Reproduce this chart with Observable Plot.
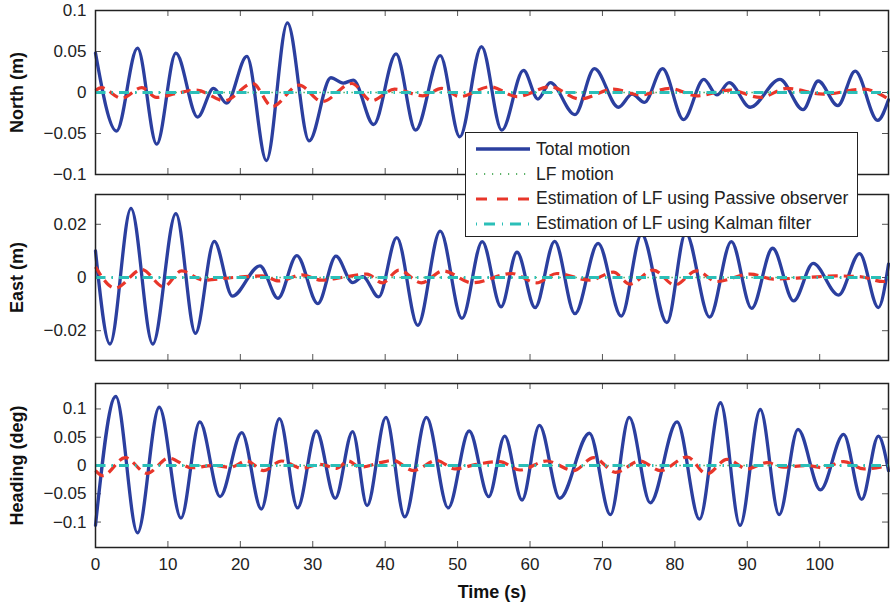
<!DOCTYPE html>
<html>
<head>
<meta charset="utf-8">
<script src="https://cdn.jsdelivr.net/npm/d3@7"></script>
<script src="https://cdn.jsdelivr.net/npm/@observablehq/plot@0.6"></script>
<style>
  body { margin: 0; background: #fff; }
  #wrap { position: relative; width: 890px; height: 611px; font-family: "Liberation Sans", Arial, Helvetica, sans-serif; color: #222; overflow: hidden; }
  .panel { position: absolute; left: 0; }
  #legend { position: absolute; left: 465px; top: 132px; width: 393px; height: 105px; background: #fff; border: 1.4px solid #222; box-sizing: border-box; }
  .lrow { position: absolute; left: 0; height: 24px; display: flex; align-items: center; }
  .lrow svg { margin-left: 9px; margin-right: 5px; }
  .lrow span { font-size: 17.5px; color: #222; white-space: nowrap; }
</style>
</head>
<body>
<div id="wrap"></div>
<script>
// ---------- data ----------
const xTicks = [0, 10, 20, 30, 40, 50, 60, 70, 80, 90, 100];
const xTickLabels = ["0", "10", "20", "30", "40", "50", "60", "70", "80", "90", "100"];
const xDomain = [0, 109.5];

const seriesNames = ["Total motion", "LF motion", "Estimation of LF using Passive observer", "Estimation of LF using Kalman filter"];

// North (m)
const northTicks = [-0.1, -0.05, 0, 0.05, 0.1];
const northTickLabels = ["\u22120.1", "\u22120.05", "0", "0.05", "0.1"];
const northTotalT = [0, 2.9, 5.8, 8.45, 11.1, 14.1, 16.3, 18.1, 20.9, 23.6, 26.5, 29.5, 32.5, 34.2, 35.6, 38.4, 41.5, 44.2, 47.6, 50.3, 53.3, 56.1, 59.1, 61.1, 62.8, 66.2, 68.9, 72.2, 74.1, 75.8, 78.3, 81.2, 84.0, 85.8, 87.5, 90.4, 94.5, 97.7, 99.8, 102.5, 104.9, 108.0, 109.5];
const northTotalV = [0.048, -0.047, 0.054, -0.063, 0.048, -0.030, 0.005, -0.013, 0.044, -0.083, 0.085, -0.059, 0.018, 0.0115, 0.015, -0.039, 0.047, -0.046, 0.045, -0.054, 0.056, -0.046, 0.027, -0.008, 0.012, -0.027, 0.029, -0.018, -0.002, -0.012, 0.029, -0.033, 0.016, -0.003, 0.012, -0.018, 0.016, -0.021, 0.014, -0.016, 0.026, -0.034, -0.009];
const northPassT = [0, 0.8, 3.6, 6.4, 8.4, 11.2, 13.9, 17.8, 21.7, 24.4, 28.1, 31.3, 35.4, 38.1, 41.3, 45.2, 47.8, 50.3, 54.5, 58.2, 62.8, 66.9, 71.5, 75.2, 79.3, 83.0, 87.6, 91.8, 95.5, 100.5, 106.1, 109.5];
const northPassV = [0.0025, 0.006, -0.007, 0.006, -0.006, -0.001, 0.003, -0.010, 0.011, -0.017, 0.009, -0.011, 0.011, -0.010, 0.004, -0.004, 0.005, -0.005, 0.007, -0.005, 0.007, -0.008, 0.004, -0.003, 0.005, -0.004, 0.003, -0.006, 0.005, -0.002, 0.004, -0.008];
const northLfT = [0, 109.5];
const northLfV = [0, 0];
const northKalT = [0, 109.5];
const northKalV = [0, 0];

// East (m)
const eastTicks = [-0.02, 0, 0.02];
const eastTickLabels = ["\u22120.02", "0", "0.02"];
const eastTotalT = [0, 2.0, 4.9, 7.9, 11.1, 13.8, 16.4, 18.9, 22.7, 25.2, 27.8, 30.7, 33.2, 35.5, 36.9, 39.1, 41.6, 44.5, 47.6, 50.6, 53.4, 56.0, 58.2, 60.7, 63.4, 66.2, 69.4, 72.6, 75.4, 78.9, 81.5, 84.8, 87.8, 90.6, 93.5, 96.4, 99.1, 102.6, 105.5, 108.1, 109.5];
const eastTotalV = [0.010, -0.025, 0.026, -0.025, 0.024, -0.021, 0.0136, -0.007, 0.0044, -0.0078, 0.0082, -0.0098, 0.008, -0.0019, 0.0003, -0.0073, 0.015, -0.018, 0.0174, -0.0154, 0.0135, -0.011, 0.0095, -0.0113, 0.0136, -0.0136, 0.0128, -0.0145, 0.0162, -0.017, 0.0168, -0.0149, 0.0135, -0.0116, 0.011, -0.0088, 0.0053, -0.0066, 0.009, -0.0113, 0.005];
const eastPassT = [0, 2.7, 6.4, 9.4, 11.9, 14.9, 19.0, 23.0, 25.3, 28.5, 31.2, 34.0, 37.5, 39.6, 41.9, 45.0, 48.0, 52.0, 57.5, 60.9, 63.7, 68.3, 71.5, 73.8, 77.0, 80.0, 83.0, 85.8, 90.4, 93.6, 98.2, 102.3, 105.5, 108.8, 109.5];
const eastPassV = [0.004, -0.004, 0.003, -0.0035, 0.0025, -0.001, 0.0, 0.0006, -0.0013, 0.001, -0.001, 0.0, 0.0013, -0.002, 0.0028, -0.002, 0.0025, -0.002, 0.0015, -0.002, 0.0015, -0.001, 0.002, -0.0025, 0.0028, -0.0028, 0.0025, -0.0015, 0.0013, -0.0006, 0.0, 0.0006, 0.0003, -0.0015, -0.001];
const eastLfT = [0, 109.5];
const eastLfV = [0, 0];
const eastKalT = [0, 109.5];
const eastKalV = [0, 0];

// Heading (deg)
const headTicks = [-0.1, -0.05, 0, 0.05, 0.1];
const headTickLabels = ["\u22120.1", "\u22120.05", "0", "0.05", "0.1"];
const headTotalT = [0, 2.8, 5.8, 8.8, 11.8, 14.4, 17.2, 20.2, 22.9, 25.4, 27.9, 30.5, 33.1, 35.5, 37.5, 40.1, 42.7, 45.7, 48.7, 51.6, 54.3, 56.5, 58.9, 61.3, 64.1, 68.2, 71.1, 73.7, 76.6, 80.3, 83.4, 86.3, 89.0, 91.8, 94.4, 97.0, 100.1, 103.3, 105.8, 108.1, 109.5];
const headTotalV = [-0.106, 0.122, -0.119, 0.103, -0.093, 0.077, -0.055, 0.058, -0.077, 0.083, -0.075, 0.061, -0.058, 0.060, -0.071, 0.085, -0.091, 0.085, -0.075, 0.061, -0.055, 0.052, -0.061, 0.071, -0.058, 0.057, -0.087, 0.085, -0.066, 0.077, -0.095, 0.111, -0.106, 0.099, -0.087, 0.064, -0.043, 0.055, -0.060, 0.052, -0.009];
const headPassT = [0, 1.0, 4.1, 7.1, 10.1, 13.3, 16.3, 18.6, 20.9, 23.2, 25.7, 28.5, 31.0, 33.3, 34.9, 36.5, 39.3, 41.1, 43.9, 47.1, 49.6, 52.6, 55.8, 58.6, 62.3, 66.0, 68.8, 71.8, 75.2, 78.0, 81.7, 84.4, 87.2, 90.0, 92.7, 95.0, 98.2, 100.5, 103.3, 106.1, 109.5];
const headPassV = [-0.009, -0.018, 0.014, -0.014, 0.013, -0.004, 0.0, -0.003, 0.008, -0.009, 0.008, -0.005, 0.002, -0.005, 0.008, -0.003, 0.005, 0.009, -0.009, 0.009, -0.006, 0.002, 0.007, -0.008, 0.008, -0.009, 0.014, -0.012, 0.008, -0.009, 0.015, -0.015, 0.011, -0.006, 0.005, -0.003, 0.0, -0.004, 0.007, -0.006, 0.0];
const headLfT = [0, 109.5];
const headLfV = [0, 0];
const headKalT = [0, 109.5];
const headKalV = [0, 0];

// ---------- styles ----------
const colors = { total: "#2b3f9f", lf: "#2a9a3a", pass: "#e8362a", kal: "#2bbfb8" };
const FONT = '"Liberation Sans", Arial, Helvetica, sans-serif';

function rows(T, V) { return T.map((t, i) => ({ t, v: V[i] })); }

const wrap = document.getElementById("wrap");

function panel(cfg) {
  const W = 890, mL = 95, mR = 2;
  const plotW = W - mL - mR;
  const plotH = cfg.height - cfg.mTop - cfg.mBottom;
  const tickLen = 6;
  const marks = [
    // inward ticks
    Plot.ruleX(xTicks, { x: d => d, insetTop: plotH - tickLen, stroke: "#555", strokeWidth: 1 }),
    Plot.ruleX(xTicks, { x: d => d, insetBottom: plotH - tickLen, stroke: "#555", strokeWidth: 1 }),
    Plot.ruleY(cfg.yTicks, { y: d => d, insetRight: plotW - tickLen, stroke: "#555", strokeWidth: 1 }),
    Plot.ruleY(cfg.yTicks, { y: d => d, insetLeft: plotW - tickLen, stroke: "#555", strokeWidth: 1 }),
    // series
    Plot.line(rows(cfg.total[0], cfg.total[1]), { x: "t", y: "v", stroke: colors.total, strokeWidth: 3.3, curve: "monotone-x" }),
    Plot.line(rows(cfg.lf[0], cfg.lf[1]), { x: "t", y: "v", stroke: colors.lf, strokeWidth: 1.6, strokeDasharray: "1.2,6.8", strokeLinecap: "butt" }),
    Plot.line(rows(cfg.pass[0], cfg.pass[1]), { x: "t", y: "v", stroke: colors.pass, strokeWidth: 3.2, strokeDasharray: "10,6", strokeLinecap: "butt", curve: "monotone-x" }),
    Plot.line(rows(cfg.kal[0], cfg.kal[1]), { x: "t", y: "v", stroke: colors.kal, strokeWidth: 3.2, strokeDasharray: "10,6,1.5,6", strokeLinecap: "butt" }),
    Plot.frame({ stroke: "#222", strokeWidth: 1.5 }),
    Plot.axisY(cfg.yTicks, { tickSize: 0, tickPadding: 9, fontSize: 17, label: null, tickFormat: d => cfg.yLabels[cfg.yTicks.indexOf(d)] }),
    Plot.text([cfg.label], { frameAnchor: "left", dx: -78.5, rotate: -90, text: d => d, fontWeight: "bold", fontSize: 18, textAnchor: "middle", fill: "#111" })
  ];
  if (cfg.showX) {
    marks.push(Plot.axisX(xTicks, { tickSize: 0, tickPadding: 10, fontSize: 17, label: null, tickFormat: d => xTickLabels[xTicks.indexOf(d)] }));
    marks.push(Plot.text(["Time (s)"], { frameAnchor: "bottom", dy: 50, text: d => d, fontWeight: "bold", fontSize: 18, fill: "#111" }));
  }
  const p = Plot.plot({
    width: W,
    height: cfg.height,
    marginLeft: mL,
    marginRight: mR,
    marginTop: cfg.mTop,
    marginBottom: cfg.mBottom,
    style: { fontFamily: FONT, fontSize: "17px", color: "#222", background: "transparent", overflow: "visible" },
    x: { domain: xDomain, axis: null },
    y: { domain: cfg.domain, axis: null },
    marks
  });
  p.classList.add("panel");
  p.style.top = cfg.top + "px";
  p.style.position = "absolute";
  wrap.appendChild(p);
}

panel({
  top: 0, height: 184, mTop: 10, mBottom: 10, domain: [-0.1, 0.1],
  yTicks: northTicks, yLabels: northTickLabels, label: "North (m)",
  total: [northTotalT, northTotalV], lf: [northLfT, northLfV], pass: [northPassT, northPassV], kal: [northKalT, northKalV]
});
panel({
  top: 184, height: 186, mTop: 10, mBottom: 10, domain: [-0.0312, 0.0312],
  yTicks: eastTicks, yLabels: eastTickLabels, label: "East (m)",
  total: [eastTotalT, eastTotalV], lf: [eastLfT, eastLfV], pass: [eastPassT, eastPassV], kal: [eastKalT, eastKalV]
});
panel({
  top: 370, height: 241, mTop: 13, mBottom: 64, domain: [-0.145, 0.145],
  yTicks: headTicks, yLabels: headTickLabels, label: "Heading (deg)",
  total: [headTotalT, headTotalV], lf: [headLfT, headLfV], pass: [headPassT, headPassV], kal: [headKalT, headKalV],
  showX: true
});

// ---------- legend ----------
const legend = document.createElement("div");
legend.id = "legend";
const legendStyles = [
  { stroke: colors.total, width: 3.3, dash: null },
  { stroke: colors.lf, width: 1.6, dash: "1.2,6.8" },
  { stroke: colors.pass, width: 3.2, dash: "11,10" },
  { stroke: colors.kal, width: 3.2, dash: "1,7,11,7" }
];
const rowCenters = [16, 41, 65.5, 90.5];
seriesNames.forEach((name, i) => {
  const r = document.createElement("div");
  r.className = "lrow";
  r.style.top = (rowCenters[i] - 12) + "px";
  const s = legendStyles[i];
  r.innerHTML = `<svg width="56" height="10"><line x1="1" y1="5" x2="55" y2="5" stroke="${s.stroke}" stroke-width="${s.width}" ${s.dash ? `stroke-dasharray="${s.dash}"` : ""} stroke-linecap="butt"/></svg><span>${name}</span>`;
  legend.appendChild(r);
});
wrap.appendChild(legend);
</script>
</body>
</html>
